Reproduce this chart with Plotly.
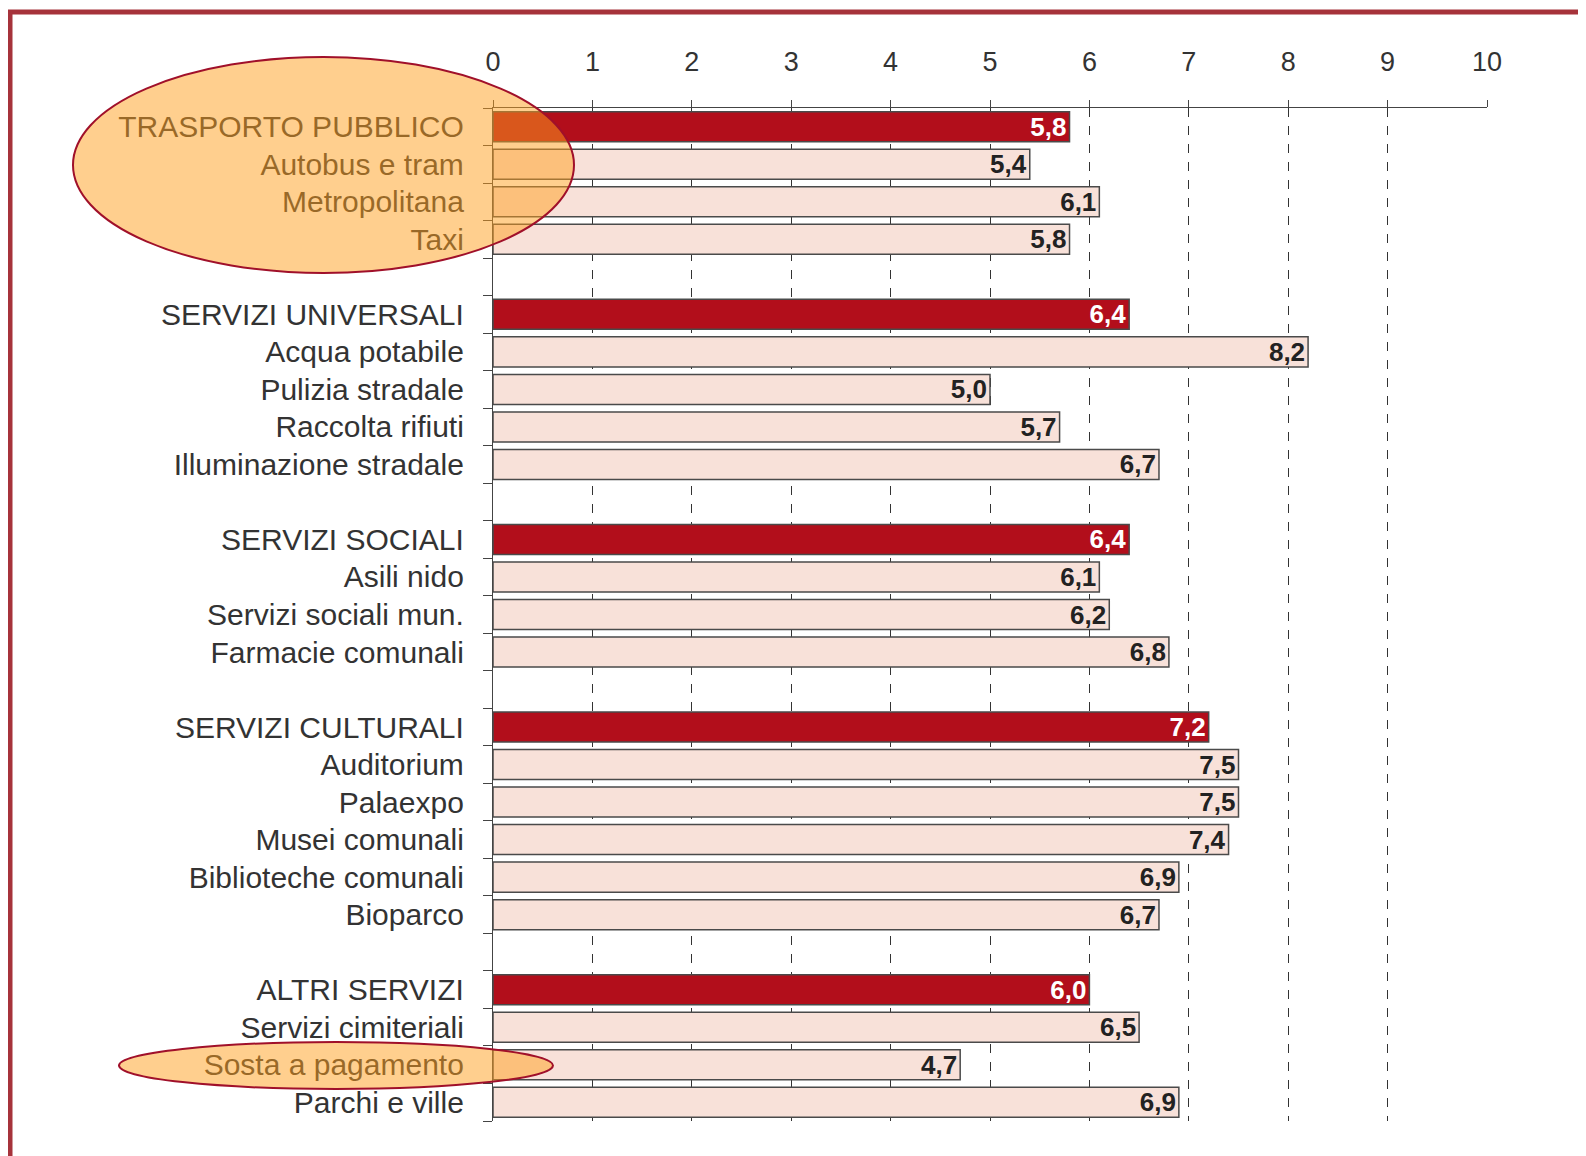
import plotly.graph_objects as go

# ---- data ----
group_names = ["TRASPORTO PUBBLICO", "SERVIZI UNIVERSALI", "SERVIZI SOCIALI",
               "SERVIZI CULTURALI", "ALTRI SERVIZI"]
group_values = [5.8, 6.4, 6.4, 7.2, 6.0]

trasporto_items = ["Autobus e tram", "Metropolitana", "Taxi"]
trasporto_values = [5.4, 6.1, 5.8]
universali_items = ["Acqua potabile", "Pulizia stradale", "Raccolta rifiuti",
                    "Illuminazione stradale"]
universali_values = [8.2, 5.0, 5.7, 6.7]
sociali_items = ["Asili nido", "Servizi sociali mun.", "Farmacie comunali"]
sociali_values = [6.1, 6.2, 6.8]
culturali_items = ["Auditorium", "Palaexpo", "Musei comunali",
                   "Biblioteche comunali", "Bioparco"]
culturali_values = [7.5, 7.5, 7.4, 6.9, 6.7]
altri_items = ["Servizi cimiteriali", "Sosta a pagamento", "Parchi e ville"]
altri_values = [6.5, 4.7, 6.9]

x_ticks = [0, 1, 2, 3, 4, 5, 6, 7, 8, 9, 10]

item_lists = [trasporto_items, universali_items, sociali_items,
              culturali_items, altri_items]
value_lists = [trasporto_values, universali_values, sociali_values,
               culturali_values, altri_values]

# ---- build slots (one empty slot between groups) ----
names, vals, is_group, ypos = [], [], [], []
slot = 0
for g, gv, items, ivs in zip(group_names, group_values, item_lists, value_lists):
    names.append(g); vals.append(gv); is_group.append(True); ypos.append(slot)
    slot += 1
    for n, v in zip(items, ivs):
        names.append(n); vals.append(v); is_group.append(False); ypos.append(slot)
        slot += 1
    slot += 1
n_slots = slot - 1

RED = "#B20E1B"
LIGHT = "#F8E1D9"
TXT = "#333333"

labels = [f"{v:.1f}".replace(".", ",") for v in vals]
colors = [RED if g else LIGHT for g in is_group]
tcolors = ["white" if g else "#222222" for g in is_group]

fig = go.Figure()
fig.add_trace(go.Bar(
    x=vals, y=ypos, orientation="h",
    marker=dict(color=colors, line=dict(color="#4a4a4a", width=1.5)),
    width=0.8,
    text=labels, textposition="inside", insidetextanchor="end",
    textfont=dict(family="Liberation Sans Narrow, Arial Narrow, Liberation Sans",
                  size=26, color=tcolors, weight="bold"),
    cliponaxis=False, hoverinfo="skip",
))

# page has an 8px body margin: figure is drawn 8px smaller and offset
fig.update_layout(
    width=1578, height=1148,
    margin=dict(l=485, r=99, t=100, b=35),
    paper_bgcolor="white", plot_bgcolor="white",
    showlegend=False, bargap=0.2,
    uniformtext=dict(minsize=22, mode="show"),
    font=dict(family="Liberation Sans, Arial", color=TXT),
)
fig.update_xaxes(
    side="top", range=[0, 10], tickvals=x_ticks,
    showline=True, linecolor="#444", linewidth=1.3,
    ticks="outside", ticklen=7, tickcolor="#444", tickwidth=1.3,
    showgrid=True, gridcolor="#333", gridwidth=1.3, griddash="dash",
    zeroline=False, tickfont=dict(size=27, color=TXT),
    ticklabelstandoff=18,
)
fig.update_yaxes(
    range=[n_slots - 0.5, -0.5],
    tickvals=ypos, ticktext=names, ticks="",
    minor=dict(tick0=-0.5, dtick=1, ticks="outside", ticklen=9,
               tickcolor="#444", tickwidth=1.3, showgrid=False),
    showline=True, linecolor="#444", linewidth=1.3,
    showgrid=False, zeroline=False,
    tickfont=dict(size=30, color=TXT),
    ticklabelstandoff=22,
)

# ---- decorative frame and highlight ellipses (paper coords, page pixels) ----
def px_x(px):
    return (px - 493) / 994

def px_y(py):
    return (1121 - py) / 1013

frame_col = "#A6333B"
fig.add_shape(type="line", xref="paper", yref="paper",
              x0=px_x(8), x1=px_x(1600), y0=px_y(12), y1=px_y(12),
              line=dict(color=frame_col, width=5))
fig.add_shape(type="line", xref="paper", yref="paper",
              x0=px_x(10), x1=px_x(10), y0=px_y(10), y1=px_y(1170),
              line=dict(color=frame_col, width=5))

ell_fill = "rgba(255,160,30,0.5)"
ell_line = "#A0102A"
fig.add_shape(type="circle", xref="paper", yref="paper", layer="above",
              x0=px_x(73), x1=px_x(574), y0=px_y(273), y1=px_y(57),
              fillcolor=ell_fill, line=dict(color=ell_line, width=2))
fig.add_shape(type="circle", xref="paper", yref="paper", layer="above",
              x0=px_x(119), x1=px_x(553), y0=px_y(1089), y1=px_y(1042),
              fillcolor=ell_fill, line=dict(color=ell_line, width=2))

fig.write_html("out.html")
